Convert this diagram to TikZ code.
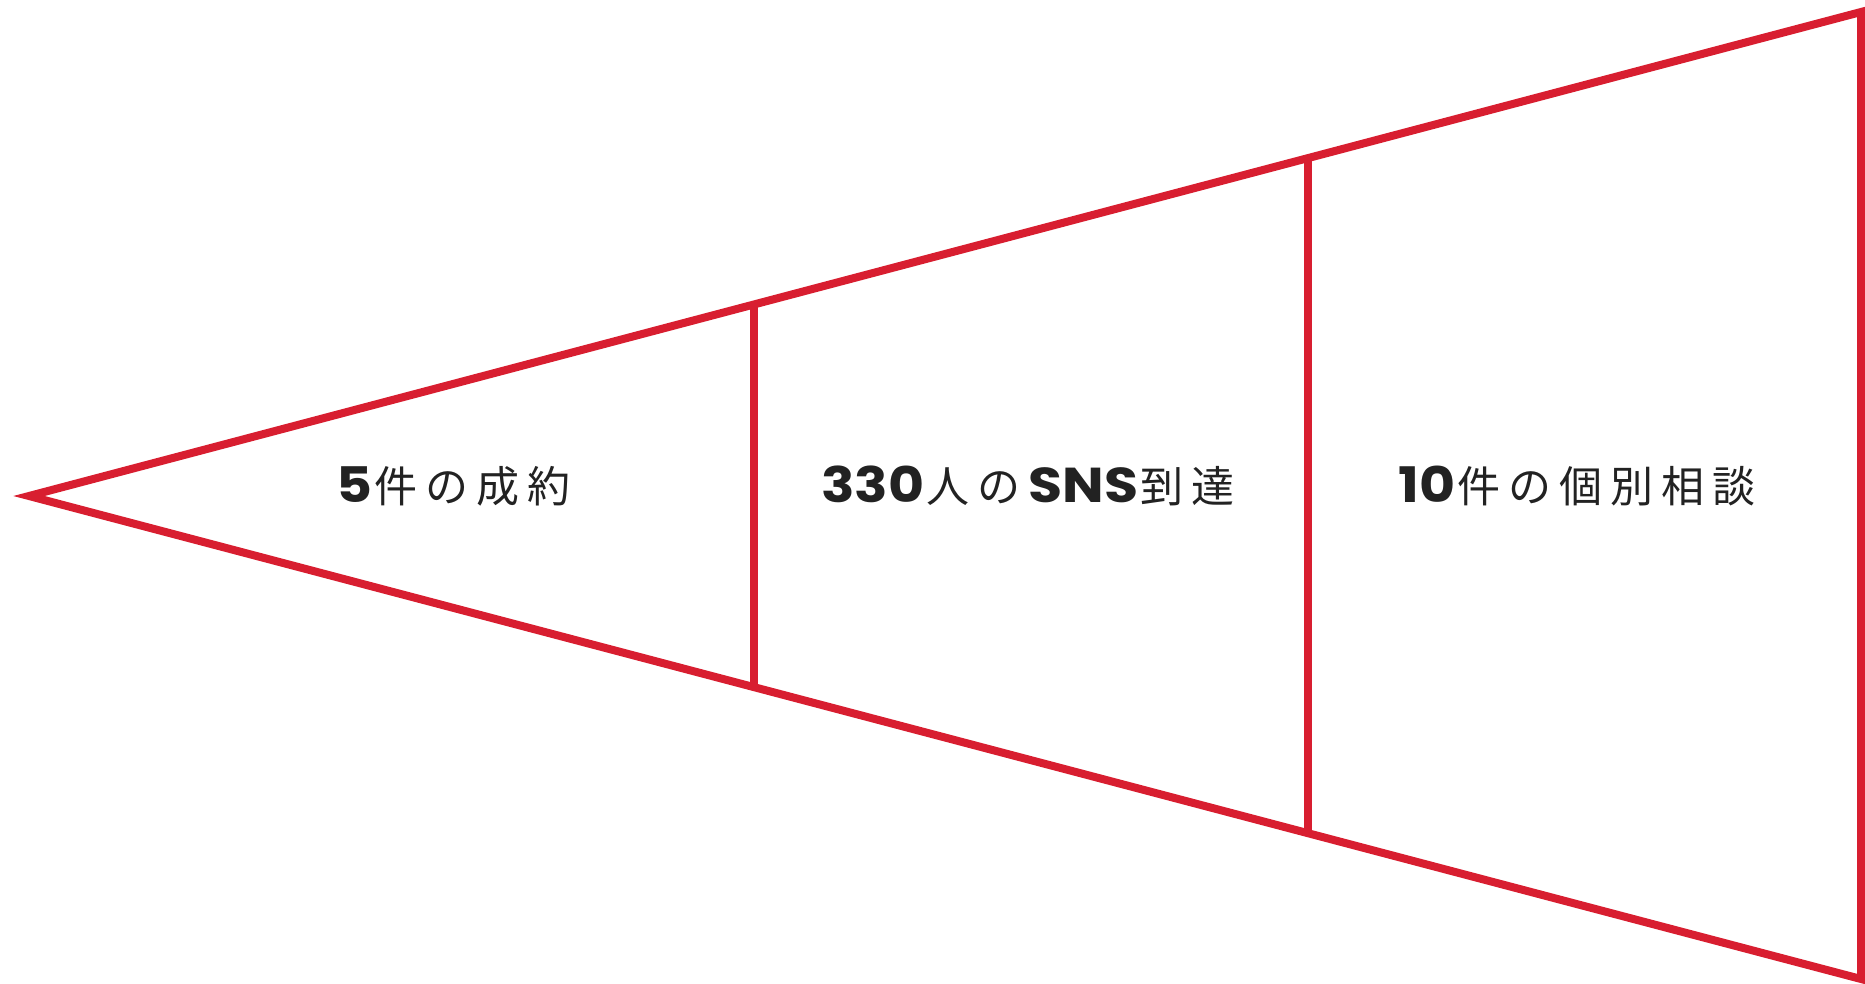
\documentclass[tikz,border=0pt]{standalone}
\usepackage{fontspec}
\usepackage{graphicx}
\usetikzlibrary{calc}
\newfontfamily\jpfont{Noto Sans CJK JP}
\newfontfamily\numfont{Poppins}
\definecolor{funnelred}{RGB}{216,30,48}
\definecolor{txt}{RGB}{34,34,34}
\newcommand\tk{\hspace{8pt}}
\newcommand\nm[1]{\scalebox{1.13}[1]{\numfont\bfseries\fontsize{49}{52}\selectfont #1}\hspace{2pt}}
\tikzset{
  edge/.style={draw=funnelred, line width=8pt, miter limit=10},
  lbl/.style={anchor=base west, text=txt, inner sep=0pt, font=\jpfont\fontsize{43}{48}\selectfont}
}
\begin{document}
\begin{tikzpicture}[x=1pt,y=-1pt]
\useasboundingbox (0,0) rectangle (1865,984);
\coordinate (tip) at (29,496);
\coordinate (tr) at (1861,12);
\coordinate (br) at (1861,979);
\draw[edge, line join=miter] (tip) -- (tr) -- (br) -- cycle;
\coordinate (a1) at ($(tip)!0.396!(tr)$);
\coordinate (b1) at ($(tip)!0.396!(br)$);
\coordinate (a2) at ($(tip)!0.698!(tr)$);
\coordinate (b2) at ($(tip)!0.698!(br)$);
\draw[edge] (a1) -- (b1);
\draw[edge] (a2) -- (b2);
\node[lbl] (t1) at (336,502) {\nm{5}件\tk の\tk 成\tk 約};
\node[lbl] (t2) at (821,502) {\nm{330}人\tk の\tk\nm{SNS}到\tk 達};
\node[lbl] (t3) at (1398,502) {\nm{10}件\tk の\tk 個\tk 別\tk 相\tk 談};
\end{tikzpicture}
\end{document}
